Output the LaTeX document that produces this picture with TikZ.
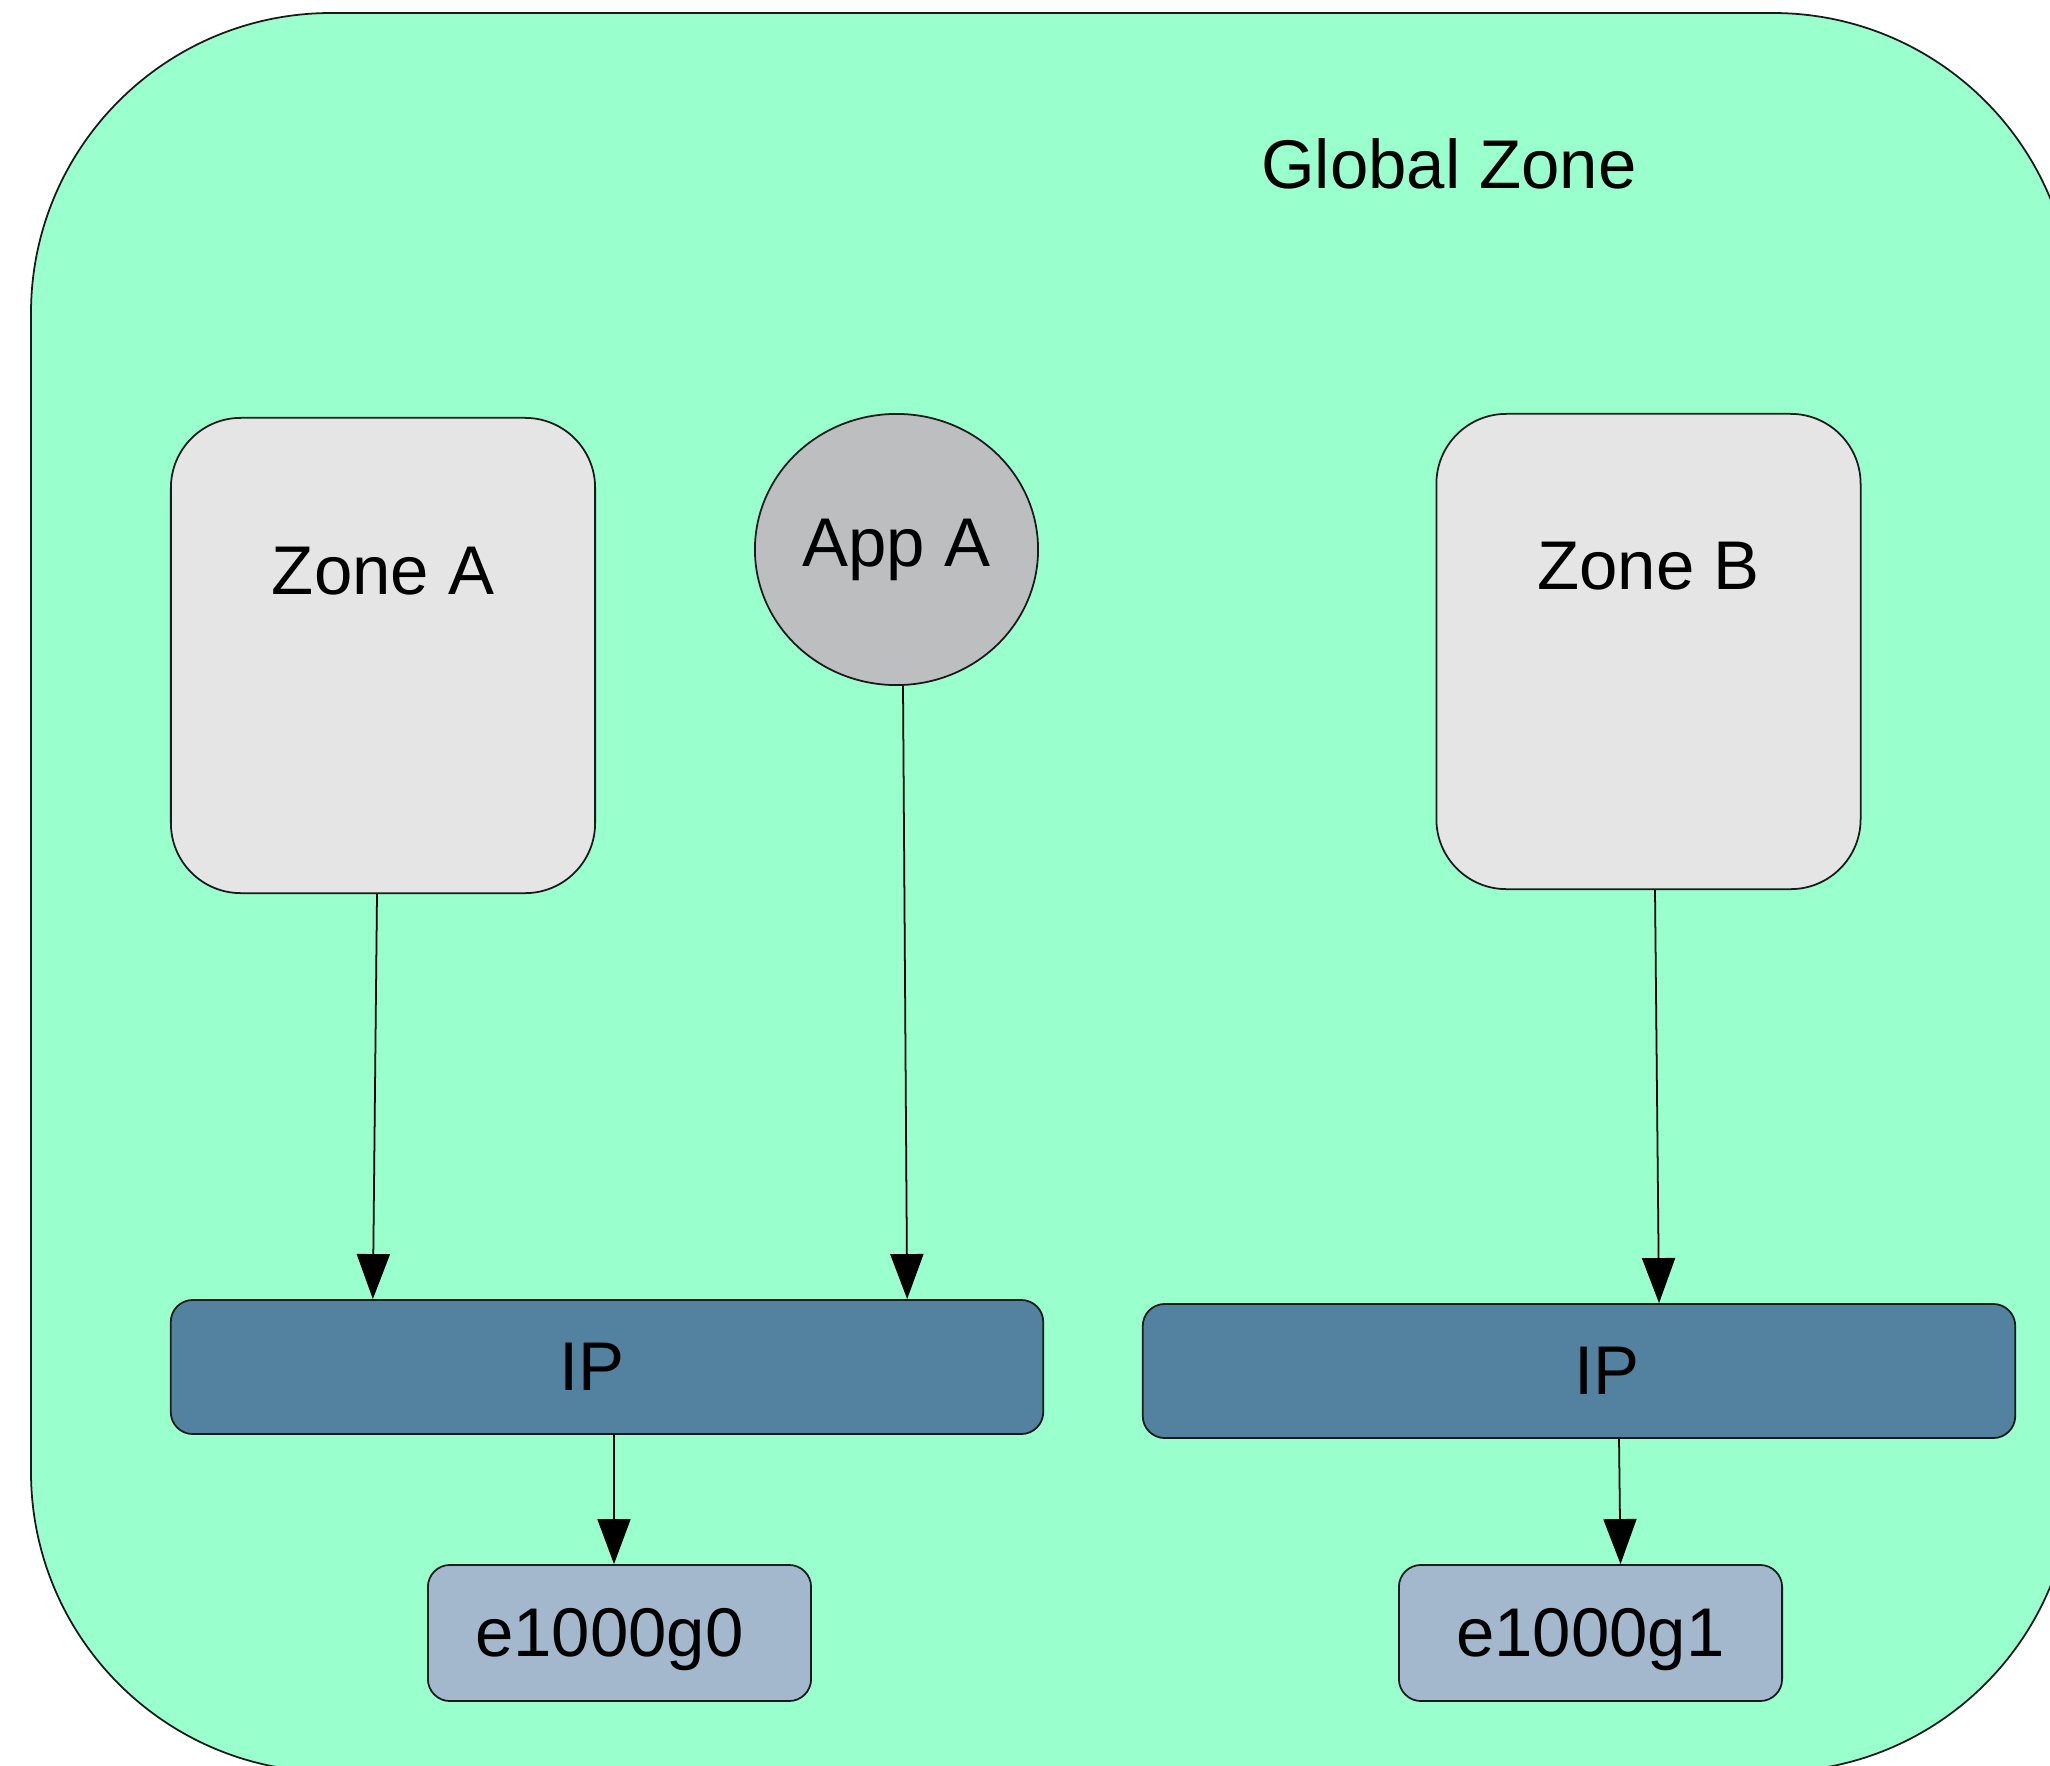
\documentclass[tikz,border=0pt]{standalone}
\usepackage{fontspec}
\setmainfont{Liberation Sans}
\usetikzlibrary{arrows.meta,positioning,shapes.geometric}
\definecolor{gzGreen}{HTML}{99FFCC}
\definecolor{gzZone}{HTML}{E5E5E5}
\definecolor{gzApp}{HTML}{BCBEC0}
\definecolor{gzIp}{HTML}{5282A0}
\definecolor{gzNic}{HTML}{A3B8CC}
\definecolor{gzInk}{HTML}{1A1A1A}
\tikzset{
  every picture/.style={font=\fontsize{19.6}{23.5}\selectfont, text=black},
  gz cluster/.style={draw=gzInk, line width=0.5pt, fill=gzGreen, rounded corners=3cm},
  gz zone/.style={draw=gzInk, line width=0.5pt, fill=gzZone, rounded corners=0.7cm,
    minimum width=4.24cm, minimum height=4.75cm},
  gz app/.style={ellipse, draw=gzInk, line width=0.5pt, fill=gzApp, inner sep=0pt,
    minimum width=2.83cm, minimum height=2.71cm},
  gz ip/.style={draw=gzInk, line width=0.5pt, fill=gzIp, rounded corners=0.22cm,
    minimum width=8.72cm, minimum height=1.34cm},
  gz nic/.style={draw=gzInk, line width=0.5pt, fill=gzNic, rounded corners=0.22cm,
    minimum width=3.83cm, minimum height=1.36cm},
  gz arrow/.style={-{Triangle[length=0.45cm,width=0.33cm]}, draw=black, line width=0.5pt}
}

\begin{document}
\begin{tikzpicture}[x=0.01cm,y=-0.01cm]
  \useasboundingbox (0,0) rectangle (2050,1766);
  \clip (0,0) rectangle (2050,1766);
  % global zone cluster, runs past the right and bottom edges
  \draw[gz cluster] (31,13) rectangle (2073,1772);
  \node (global) at (1449,164) {Global Zone};

  \node[gz zone, label={[yshift=0.845cm]center:Zone A}] (zoneA) at (383,655.5) {};
  \node[gz app] (appA) at (896.5,549.5) {App A};
  \node[gz zone, label={[yshift=0.855cm]center:Zone B}] (zoneB) at (1648.5,651.5) {};

  \node[gz ip, label={[xshift=-0.15cm]center:IP}] (ipA) at (607,1367) {};
  \node[gz ip, label={[xshift=0.28cm]center:IP}] (ipB) at (1579,1371) {};

  \node[gz nic, label={[xshift=-0.1cm,yshift=-0.07cm]center:e1000g0}] (nicA) at (619.5,1633) {};
  \node[gz nic, label={[yshift=-0.07cm]center:e1000g1}] (nicB) at (1590.5,1633) {};

  \draw[gz arrow] ([xshift=-0.06cm]zoneA.south) -- ([xshift=-2.34cm]ipA.north);
  \draw[gz arrow] ([xshift=0.065cm]appA.south) -- ([xshift=3cm]ipA.north);
  \draw[gz arrow] ([xshift=0.065cm]zoneB.south) -- ([xshift=0.8cm]ipB.north);
  \draw[gz arrow] ([xshift=0.07cm]ipA.south) -- ([xshift=-0.055cm]nicA.north);
  \draw[gz arrow] ([xshift=0.4cm]ipB.south) -- ([xshift=0.3cm]nicB.north);
\end{tikzpicture}
\end{document}
